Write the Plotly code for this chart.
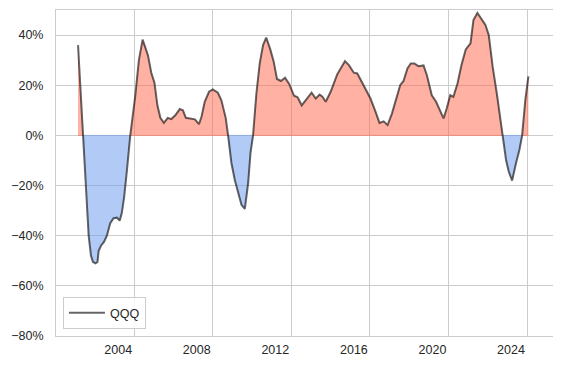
import numpy as np
import pandas as pd
import plotly.graph_objects as go

# decimal-year dates
years = [2001.14, 2001.39, 2001.56, 2001.68, 2001.80, 2001.90, 2002.03, 2002.13, 2002.19, 2002.31,
         2002.46, 2002.61, 2002.78, 2002.95, 2003.12, 2003.26, 2003.37, 2003.49, 2003.63, 2003.80,
         2004.05, 2004.24, 2004.43, 2004.54, 2004.70, 2004.87, 2005.03, 2005.18, 2005.33, 2005.51,
         2005.71, 2005.89, 2006.09, 2006.32, 2006.48, 2006.63, 2006.83, 2007.09, 2007.30, 2007.43,
         2007.59, 2007.81, 2008.00, 2008.26, 2008.44, 2008.66, 2008.78, 2008.95, 2009.12, 2009.29,
         2009.46, 2009.63, 2009.80, 2009.92, 2010.05, 2010.22, 2010.39, 2010.56, 2010.72, 2010.92,
         2011.10, 2011.27, 2011.47, 2011.68, 2011.89, 2012.14, 2012.32, 2012.53, 2012.78, 2013.03,
         2013.24, 2013.44, 2013.58, 2013.75, 2014.00, 2014.17, 2014.34, 2014.51, 2014.73, 2014.93,
         2015.18, 2015.36, 2015.53, 2015.78, 2016.03, 2016.29, 2016.49, 2016.70, 2016.90, 2017.12,
         2017.37, 2017.54, 2017.71, 2017.91, 2018.08, 2018.26, 2018.47, 2018.73, 2018.90, 2019.15,
         2019.37, 2019.58, 2019.75, 2019.91, 2020.09, 2020.25, 2020.46, 2020.66, 2020.88, 2021.12,
         2021.27, 2021.47, 2021.66, 2021.88, 2022.05, 2022.25, 2022.46, 2022.63, 2022.76, 2022.93,
         2023.07, 2023.24, 2023.44, 2023.61, 2023.75, 2023.91, 2024.07]

# rolling return of QQQ, percent
qqq = [36, 0, -20, -40, -48, -50.5, -51, -50.5, -46, -44,
       -42.5, -40, -35, -33, -32.8, -34, -31, -24.5, -14, 0,
       15.5, 30, 38.2, 36, 32, 25, 21, 12, 7, 5,
       7, 6.5, 8, 10.5, 10, 7, 6.8, 6.4, 4.5, 7.5,
       13.4, 17.4, 18.3, 17, 14, 7, 0, -11, -17.8, -23,
       -27.7, -29.3, -19, -7, 0, 16.7, 28.7, 36, 39, 34.5,
       29.5, 22.5, 21.7, 23, 20.5, 15.8, 15.2, 12, 14.5, 17,
       14.7, 16.3, 15.4, 13.4, 17.4, 21.3, 24.4, 26.7, 29.6, 28,
       25, 24.7, 22, 18.3, 14.7, 9.4, 5, 5.6, 4.1, 8.7,
       15.4, 20, 21.7, 26.7, 28.7, 28.7, 27.6, 27.9, 24, 16,
       13.4, 10, 6.8, 10.7, 16, 15.4, 20.7, 28, 34.3, 36.7,
       46, 48.8, 46.6, 44, 40, 27.3, 16.7, 7.4, 0, -9.8,
       -14.5, -18, -11, -5.8, 0, 14, 23.5]

tick_years = [2004, 2008, 2012, 2016, 2020, 2024]
y_ticks = [-80, -60, -40, -20, 0, 20, 40]


def to_date(y):
    yr = int(np.floor(y))
    start = pd.Timestamp(year=yr, month=1, day=1)
    return start + pd.Timedelta(days=(y - yr) * 365.25)


dates = [to_date(y) for y in years]
vals = np.array(qqq, dtype=float) / 100.0

pos = [v if v >= 0 else None for v in vals]
neg = [v if v <= 0 else None for v in vals]
zpos = [0 if v >= 0 else None for v in vals]
zneg = [0 if v <= 0 else None for v in vals]

fig = go.Figure()
fig.add_trace(go.Scatter(x=dates, y=pos, mode="lines", fill="tozeroy",
                         fillcolor="rgba(255,99,71,0.5)", line=dict(width=0),
                         connectgaps=False, showlegend=False, hoverinfo="skip"))
fig.add_trace(go.Scatter(x=dates, y=neg, mode="lines", fill="tozeroy",
                         fillcolor="rgba(100,149,237,0.5)", line=dict(width=0),
                         connectgaps=False, showlegend=False, hoverinfo="skip"))
fig.add_trace(go.Scatter(x=dates, y=zpos, mode="lines", line=dict(width=1, color="rgba(255,99,71,0.45)"),
                         connectgaps=False, showlegend=False, hoverinfo="skip"))
fig.add_trace(go.Scatter(x=dates, y=zneg, mode="lines", line=dict(width=1, color="rgba(100,149,237,0.45)"),
                         connectgaps=False, showlegend=False, hoverinfo="skip"))
fig.add_trace(go.Scatter(x=dates, y=vals, mode="lines", name="QQQ",
                         line=dict(width=2, color="rgba(0,0,0,0.6)")))

font = dict(family="Liberation Sans, Arial, sans-serif", size=12.5, color="#262626")

# the page body adds an 8px offset, so the figure is 8px smaller and margins compensate
fig.update_layout(
    width=553, height=360,
    margin=dict(l=48, r=8, t=2, b=32, autoexpand=False),
    paper_bgcolor="white", plot_bgcolor="white",
    font=font,
    showlegend=True,
    legend=dict(x=0.014, y=0.021, xanchor="left", yanchor="bottom",
                bgcolor="rgba(255,255,255,0.8)", bordercolor="#cccccc", borderwidth=1,
                font=font, tracegroupgap=0, itemwidth=36),
)
fig.update_xaxes(
    range=[to_date(2000.02), to_date(2025.32)],
    tickvals=[pd.Timestamp(year=y, month=1, day=1) for y in tick_years],
    ticktext=[str(y) for y in tick_years],
    ticklabelshift=-16, ticklabelstandoff=2,
    showgrid=True, gridcolor="#cccccc", gridwidth=1,
    showline=True, linecolor="#cccccc", linewidth=1, mirror=True,
    zeroline=False, ticks="",
)
fig.update_yaxes(
    range=[-0.80, 0.50],
    tickvals=[t / 100 for t in y_ticks],
    ticktext=[(f"{t}%").replace("-", "\u2212") for t in y_ticks],
    showgrid=True, gridcolor="#cccccc", gridwidth=1,
    showline=True, linecolor="#cccccc", linewidth=1, mirror=True,
    zeroline=False, ticks="", ticklabelstandoff=9,
)

fig.write_html("out.html")
